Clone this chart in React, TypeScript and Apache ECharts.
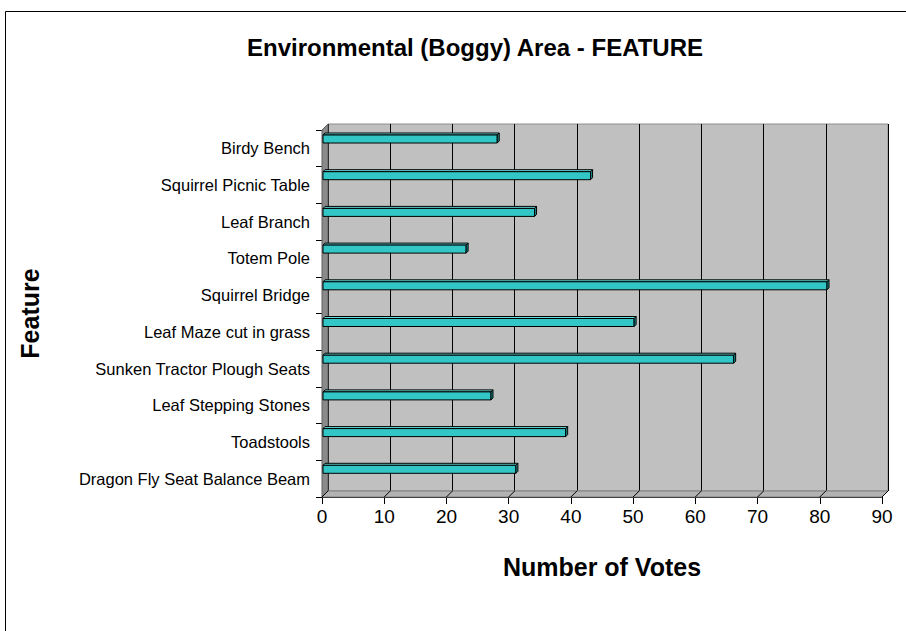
import React, { useEffect, useRef } from "react";
import * as echarts from "echarts";

const categories = [
  "Birdy Bench",
  "Squirrel Picnic Table",
  "Leaf Branch",
  "Totem Pole",
  "Squirrel Bridge",
  "Leaf Maze cut in grass",
  "Sunken Tractor Plough Seats",
  "Leaf Stepping Stones",
  "Toadstools",
  "Dragon Fly Seat Balance Beam",
];
const votes = [28, 43, 34, 23, 81, 50, 66, 27, 39, 31];
const xTicks = [0, 10, 20, 30, 40, 50, 60, 70, 80, 90];
const xMin = 0;
const xMax = 90;
const xInterval = 10;

const FONT = "'Liberation Sans', Arial, sans-serif";

export default function App() {
  const ref = useRef<HTMLDivElement>(null);
  useEffect(() => {
    if (!ref.current) return;
    const chart = echarts.init(ref.current, undefined, { renderer: "svg" });
    const F = { left: 322, top: 130, width: 560, height: 367 };
    const DX = 6;
    const DY = -6;
    const pxPer = F.width / (xMax - xMin);
    const floorLines = xTicks.map((t) => ({
      type: "line",
      z: 2,
      shape: {
        x1: F.left + (t - xMin) * pxPer,
        y1: F.top + F.height,
        x2: F.left + (t - xMin) * pxPer + DX,
        y2: F.top + F.height + DY,
      },
      style: { stroke: "#000", lineWidth: 1 },
    }));
    chart.setOption({
      animation: false,
      backgroundColor: "#fff",
      textStyle: { fontFamily: FONT },
      title: {
        text: "Environmental (Boggy) Area - FEATURE",
        left: 470,
        top: 30,
        textAlign: "center",
        textStyle: { fontFamily: FONT, fontSize: 24, fontWeight: "bold", color: "#000" },
      },
      graphic: [
        {
          type: "rect",
          z: 0,
          shape: { x: 5.5, y: 11.5, width: 920, height: 660 },
          style: { fill: "none", stroke: "#000", lineWidth: 1 },
        },
        {
          type: "polygon",
          z: 1,
          shape: {
            points: [
              [F.left, F.top + F.height],
              [F.left + F.width, F.top + F.height],
              [F.left + F.width + DX, F.top + F.height + DY],
              [F.left + DX, F.top + F.height + DY],
            ],
          },
          style: { fill: "#b2b2b2", stroke: "#808080", lineWidth: 1 },
        },
        {
          type: "polygon",
          z: 1,
          shape: {
            points: [
              [F.left, F.top],
              [F.left + DX, F.top + DY],
              [F.left + DX, F.top + F.height + DY],
              [F.left, F.top + F.height],
            ],
          },
          style: { fill: "#8a8a8a", stroke: "#606060", lineWidth: 1 },
        },
        ...floorLines,
      ],
      grid: [
        {
          left: F.left,
          top: F.top,
          width: F.width,
          height: F.height,
          containLabel: false,
        },
        {
          left: F.left + DX,
          top: F.top + DY,
          width: F.width,
          height: F.height,
          show: true,
          backgroundColor: "#c0c0c0",
          borderColor: "#8c8c8c",
          borderWidth: 1,
          z: 0,
        },
      ],
      xAxis: [
        {
          type: "value",
          gridIndex: 0,
          min: xMin,
          max: xMax,
          interval: xInterval,
          axisLine: { show: true, lineStyle: { color: "#000", width: 1 } },
          axisTick: { show: true, length: 7, lineStyle: { color: "#000" } },
          axisLabel: { fontSize: 19, color: "#000", margin: 10, fontFamily: FONT },
          splitLine: { show: false },
          name: "Number of Votes",
          nameLocation: "middle",
          nameGap: 57,
          nameTextStyle: { fontSize: 25, fontWeight: "bold", color: "#000", fontFamily: FONT },
        },
        {
          type: "value",
          gridIndex: 1,
          min: xMin,
          max: xMax,
          interval: xInterval,
          axisLine: { show: false },
          axisTick: { show: false },
          axisLabel: { show: false },
          splitLine: { show: true, lineStyle: { color: "#000", width: 1 } },
        },
      ],
      yAxis: [
        {
          type: "category",
          gridIndex: 0,
          data: categories,
          inverse: true,
          axisLine: { show: true, lineStyle: { color: "#000", width: 1 } },
          axisTick: { show: true, length: 6, lineStyle: { color: "#000" } },
          axisLabel: { fontSize: 16.5, color: "#000", margin: 12, fontFamily: FONT },
          splitLine: { show: false },
          name: "Feature",
          nameLocation: "middle",
          nameGap: 280,
          nameRotate: 90,
          nameTextStyle: { fontSize: 25, fontWeight: "bold", color: "#000", fontFamily: FONT },
        },
        {
          type: "category",
          gridIndex: 1,
          data: categories,
          inverse: true,
          show: false,
        },
      ],
      series: [
        {
          type: "custom",
          xAxisIndex: 0,
          yAxisIndex: 0,
          z: 5,
          data: votes.map((v, i) => [v, i]),
          encode: { x: 0, y: 1 },
          renderItem: (params: any, api: any) => {
            const v = api.value(0);
            const idx = api.value(1);
            const p0 = api.coord([0, idx]);
            const p1 = api.coord([v, idx]);
            const band = api.size([0, 1])[1];
            const top = p0[1] - band / 2 + 3;
            const d = 2;
            const bh = 8;
            const x0 = p0[0] + 1;
            const x1 = p1[0] + 1;
            return {
              type: "group",
              children: [
                {
                  type: "polygon",
                  shape: {
                    points: [
                      [x0, top + d],
                      [x0 + d, top],
                      [x1 + d, top],
                      [x1, top + d],
                    ],
                  },
                  style: { fill: "#66dede", stroke: "#000", lineWidth: 1 },
                },
                {
                  type: "rect",
                  shape: { x: x0, y: top + d, width: x1 - x0, height: bh },
                  style: { fill: "#33c6c6", stroke: "#000", lineWidth: 1 },
                },
                {
                  type: "polygon",
                  shape: {
                    points: [
                      [x1, top + d],
                      [x1 + d, top],
                      [x1 + d, top + bh],
                      [x1, top + d + bh],
                    ],
                  },
                  style: { fill: "#1a8a8a", stroke: "#000", lineWidth: 1 },
                },
              ],
            };
          },
        },
      ],
    });
    return () => chart.dispose();
  }, []);
  return (
    <div
      ref={ref}
      style={{ position: "fixed", left: 0, top: 0, width: 906, height: 631 }}
    />
  );
}
